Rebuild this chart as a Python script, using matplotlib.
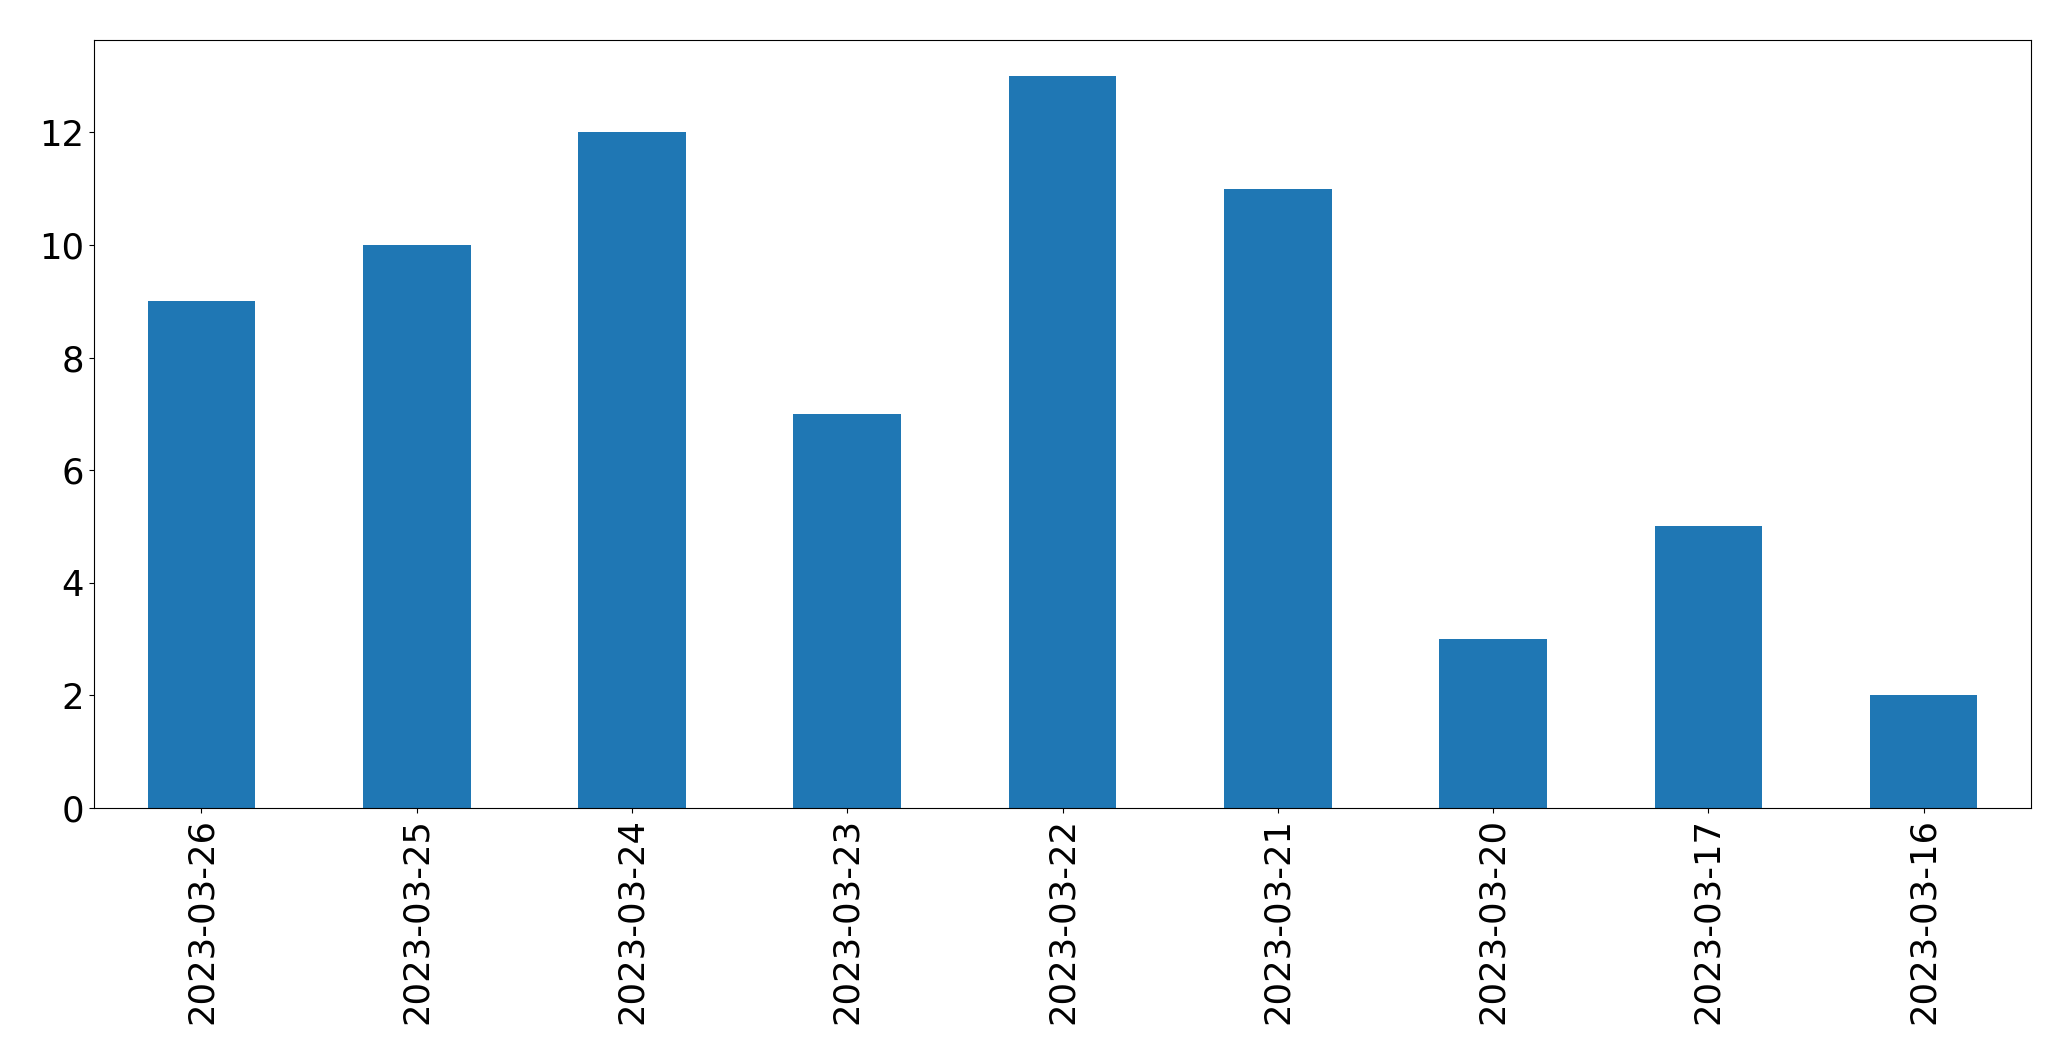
import matplotlib
matplotlib.use("Agg")
import matplotlib.pyplot as plt

dates = ["2023-03-26", "2023-03-25", "2023-03-24", "2023-03-23", "2023-03-22",
         "2023-03-21", "2023-03-20", "2023-03-17", "2023-03-16"]
counts = [9, 10, 12, 7, 13, 11, 3, 5, 2]

fig, ax = plt.subplots(figsize=(20.71, 10.61), dpi=100)
fig.subplots_adjust(left=0.0453, right=0.9808, top=0.9627, bottom=0.2385)

xs = range(len(dates))
ax.bar(xs, counts, width=0.5, color="#1f77b4")
ax.set_xlim(-0.5, len(dates) - 0.5)
ax.set_ylim(0, max(counts) * 1.05)
ax.set_xticks(list(xs))
ax.set_xticklabels(dates, rotation=90, fontsize=25.5)
ax.tick_params(axis="y", labelsize=25.5)

plt.savefig("out.png", dpi=100)
plt.close()
